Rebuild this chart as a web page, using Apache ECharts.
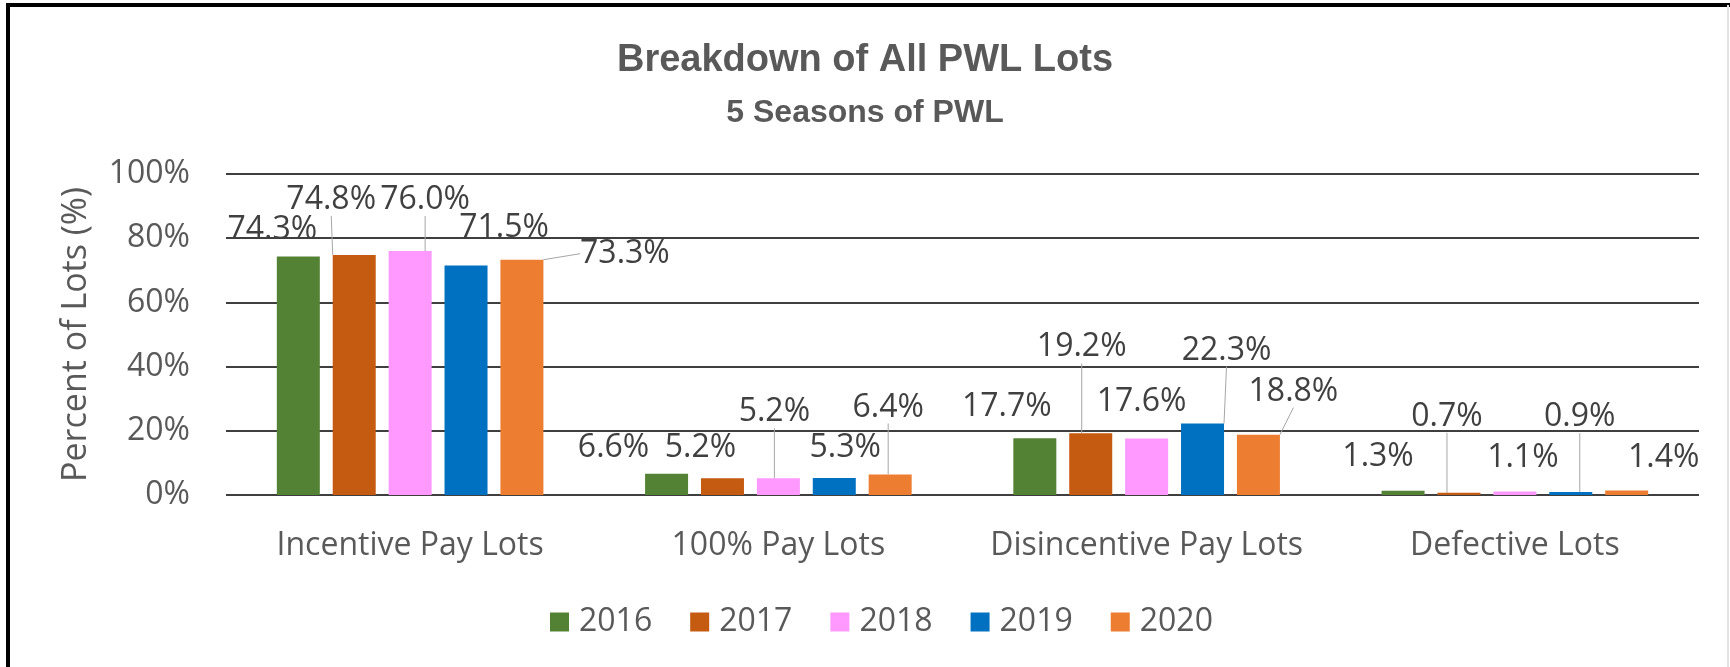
<!DOCTYPE html>
<html>
<head>
<meta charset="utf-8">
<title>Breakdown of All PWL Lots</title>
<script src="https://cdn.jsdelivr.net/npm/echarts@6/dist/echarts.min.js"></script>
<style>
  html, body { margin: 0; padding: 0; background: #fff; }
  #pwl { width: 1730px; height: 667px; }
</style>
</head>
<body>
<div id="pwl"></div>
<script>
var categories = ['Incentive Pay Lots', '100% Pay Lots', 'Disincentive Pay Lots', 'Defective Lots'];
var seasons = ['2016', '2017', '2018', '2019', '2020'];
var pct2016 = [74.3, 6.6, 17.7, 1.3];
var pct2017 = [74.8, 5.2, 19.2, 0.7];
var pct2018 = [76.0, 5.2, 17.6, 1.1];
var pct2019 = [71.5, 5.3, 22.3, 0.9];
var pct2020 = [73.3, 6.4, 18.8, 1.4];
var yTicks = [0, 20, 40, 60, 80, 100];

var seriesValues = [pct2016, pct2017, pct2018, pct2019, pct2020];
var colors = ['#548235', '#C55A11', '#FF99FF', '#0070C0', '#ED7D31'];

// where Excel had dragged each data label: [dx, dy] from the bar's top centre,
// plus the kind of leader line ('b' = from below the label, 'l' = from its left)
var labelSpots = [
  [[-26, -27, ''],  [-53, -26, ''], [-28, -31, ''], [-25, -34, '']],
  [[-23, -55, 'b'], [-22, -30, ''], [-9, -86, 'b'], [-12, -76, 'b']],
  [[15, -51, 'b'],  [-4, -66, 'b'], [-5, -37, ''],  [8, -34, '']],
  [[38, -38, ''],   [11, -30, ''],  [24, -73, 'b'], [9, -75, 'b']],
  [[103, -6, 'l'],  [-2, -67, 'b'], [35, -43, 'b'], [37, -33, '']]
];

var textFont = 'Open Sans';

function placeLabel(params) {
  var spot = labelSpots[params.seriesIndex][params.dataIndex];
  var cx = params.rect.x + params.rect.width / 2;
  var top = params.rect.y;
  var lx = cx + spot[0];
  var ly = top + spot[1];
  var out = { x: lx, y: ly, align: 'center', verticalAlign: 'middle' };
  if (spot[2] === 'b') {
    out.labelLinePoints = [[lx, ly + 22], [cx, top]];
  } else if (spot[2] === 'l') {
    out.labelLinePoints = [[lx - params.labelRect.width / 2 - 10, ly], [cx, top]];
  }
  return out;
}

var series = seasons.map(function (name, s) {
  return {
    name: name,
    type: 'bar',
    barWidth: 43,
    barGap: '30%',
    itemStyle: { color: colors[s] },
    label: {
      show: true,
      position: 'top',
      fontFamily: textFont,
      fontSize: 32,
      color: '#404040',
      formatter: function (p) { return p.value.toFixed(1) + '%'; }
    },
    labelLine: { lineStyle: { color: '#A6A6A6', width: 1 } },
    labelLayout: placeLabel,
    data: seriesValues[s].map(function (v, i) {
      return { value: v, labelLine: { show: labelSpots[s][i][2] !== '' } };
    })
  };
});

var chart = echarts.init(document.getElementById('pwl'));

var option = {
  animation: false,
  backgroundColor: '#fff',
  color: colors,
  title: [{
    text: 'Breakdown of All PWL Lots',
    left: 'center',
    top: 42,
    padding: 0,
    textStyle: { fontFamily: 'Liberation Sans', fontWeight: 'bold', fontSize: 38, color: '#595959' }
  }, {
    text: '5 Seasons of PWL',
    left: 'center',
    top: 97,
    padding: 0,
    textStyle: { fontFamily: 'Liberation Sans', fontWeight: 'bold', fontSize: 32, color: '#595959' }
  }],
  legend: {
    data: seasons,
    left: 545,
    top: 601,
    icon: 'rect',
    itemWidth: 19,
    itemHeight: 19,
    itemGap: 38,
    selectedMode: false,
    textStyle: { fontFamily: textFont, fontSize: 32, color: '#595959', padding: [0, 0, 0, 5] }
  },
  grid: { left: 226, right: 31, top: 174, bottom: 172, outerBoundsMode: 'none' },
  xAxis: {
    type: 'category',
    data: categories,
    axisTick: { show: false },
    axisLine: { show: false },
    axisLabel: { interval: 0, margin: 35, fontFamily: textFont, fontSize: 32, color: '#595959' }
  },
  yAxis: {
    type: 'value',
    min: yTicks[0],
    max: yTicks[yTicks.length - 1],
    interval: yTicks[1] - yTicks[0],
    name: 'Percent of Lots (%)',
    nameLocation: 'middle',
    nameGap: 133,
    nameTextStyle: { fontFamily: textFont, fontSize: 34, color: '#595959' },
    axisLine: { show: false },
    axisTick: { show: false },
    axisLabel: { margin: 36, formatter: '{value}%', fontFamily: textFont, fontSize: 32, color: '#595959' },
    splitLine: { lineStyle: { color: '#3f3f3f', width: 2 } }
  },
  graphic: [{
    type: 'polyline',
    silent: true,
    shape: { points: [[8, 667], [8, 5], [1730, 5]] },
    style: { stroke: '#000', lineWidth: 4, fill: 'none' }
  }, {
    type: 'line',
    silent: true,
    shape: { x1: 1728, y1: 5, x2: 1728, y2: 667 },
    style: { stroke: '#e3e3e3', lineWidth: 2 }
  }],
  series: series
};

chart.setOption(option);
</script>
</body>
</html>
